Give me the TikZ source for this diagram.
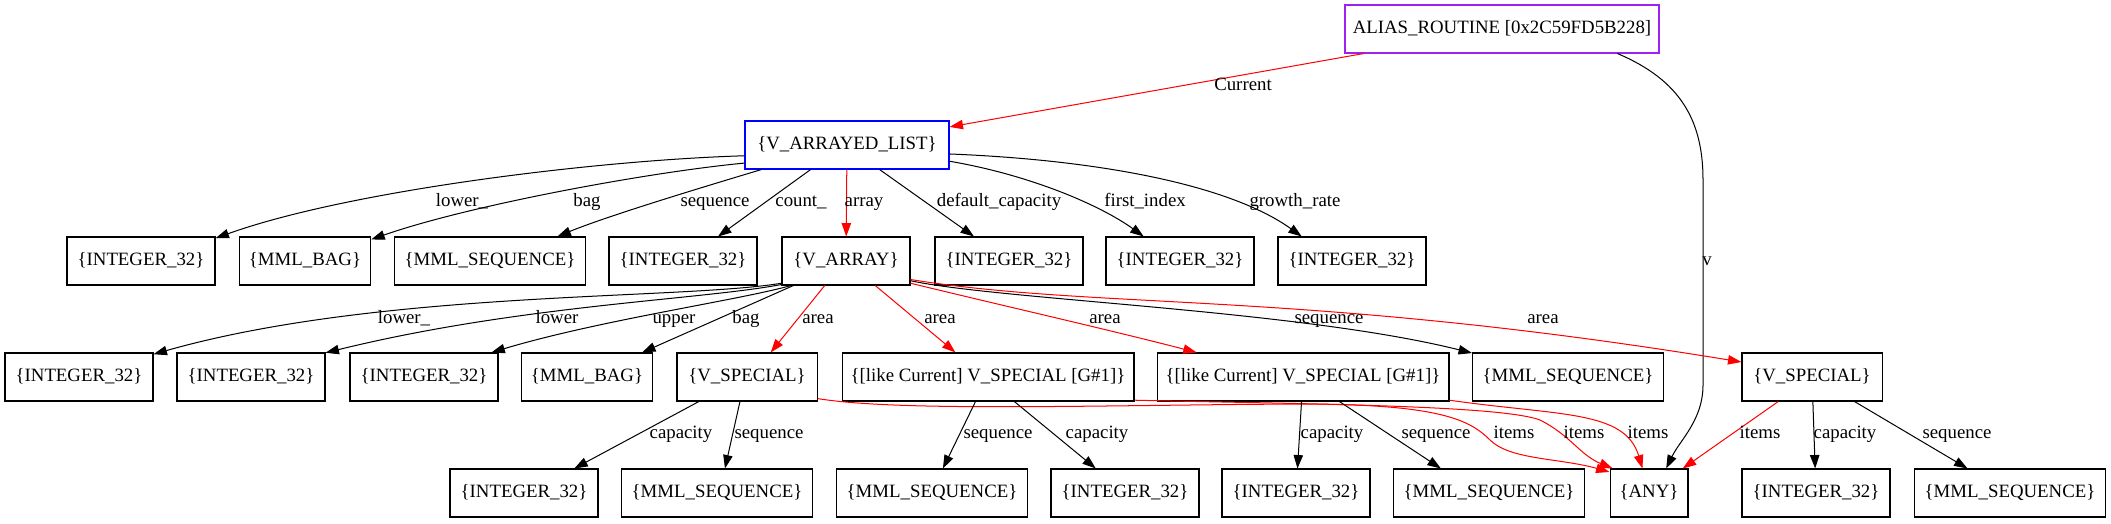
\documentclass[tikz,border=0pt]{standalone}
\usepackage{fontspec}
\setmainfont{Liberation Serif}
\usetikzlibrary{arrows.meta}
\definecolor{purp}{HTML}{A020F0}
\begin{document}
\begin{tikzpicture}[x=0.744pt,y=-0.744pt,
  box/.style={draw, rectangle, line width=0.8pt, minimum height=35.7pt, inner xsep=0pt, inner ysep=0pt,
    text height=10pt, text depth=3.5pt, font=\fontsize{14}{16}\selectfont},
  wint/.style={box, minimum width=110.1pt},
  wbag/.style={box, minimum width=97.8pt},
  wseq/.style={box, minimum width=142.1pt},
  wspec/.style={box, minimum width=104.2pt},
  wlike/.style={box, minimum width=217.2pt},
  lbl/.style={inner sep=0pt, text height=10pt, text depth=3.5pt, font=\fontsize{14}{16}\selectfont},
  conn/.style={draw, line width=0.75pt, -{Triangle[length=10pt,width=7pt]}},
  rconn/.style={conn, red}]
\fill[white] (0,0) rectangle (2111,523);
\useasboundingbox (0,0) rectangle (2111,523);

% nodes
\node[box, draw=purp, minimum width=233.6pt] (alias) at (1502,29) {ALIAS\_ROUTINE [0x2C59FD5B228]};
\node[box, draw=blue, minimum width=151.8pt] (val) at (847,145) {\{V\_ARRAYED\_LIST\}};

\node[wint] (a2) at (141,261) {\{INTEGER\_32\}};
\node[wbag] (b2) at (305,261) {\{MML\_BAG\}};
\node[wseq] (c2) at (490,261) {\{MML\_SEQUENCE\}};
\node[wint] (d2) at (683,261) {\{INTEGER\_32\}};
\node[box, minimum width=95.2pt] (e2) at (846,261) {\{V\_ARRAY\}};
\node[wint] (f2) at (1009,261) {\{INTEGER\_32\}};
\node[wint] (g2) at (1180,261) {\{INTEGER\_32\}};
\node[wint] (h2) at (1352,261) {\{INTEGER\_32\}};

\node[wint] (a3) at (79,377) {\{INTEGER\_32\}};
\node[wint] (b3) at (251,377) {\{INTEGER\_32\}};
\node[wint] (c3) at (424,377) {\{INTEGER\_32\}};
\node[wbag] (d3) at (587,377) {\{MML\_BAG\}};
\node[wspec] (e3) at (747,377) {\{V\_SPECIAL\}};
\node[wlike] (f3) at (988,377) {\{[like Current] V\_SPECIAL [G\#1]\}};
\node[wlike] (g3) at (1303,377) {\{[like Current] V\_SPECIAL [G\#1]\}};
\node[wseq] (h3) at (1568,377) {\{MML\_SEQUENCE\}};
\node[wspec] (i3) at (1812,377) {\{V\_SPECIAL\}};

\node[wint] (a4) at (524,493) {\{INTEGER\_32\}};
\node[wseq] (b4) at (717,493) {\{MML\_SEQUENCE\}};
\node[wseq] (c4) at (932,493) {\{MML\_SEQUENCE\}};
\node[wint] (d4) at (1125,493) {\{INTEGER\_32\}};
\node[wint] (e4) at (1296,493) {\{INTEGER\_32\}};
\node[wseq] (f4) at (1489,493) {\{MML\_SEQUENCE\}};
\node[box, minimum width=58pt] (g4) at (1649,493) {\{ANY\}};
\node[wint] (h4) at (1816,493) {\{INTEGER\_32\}};
\node[wseq] (i4) at (2010,493) {\{MML\_SEQUENCE\}};

% edges from alias
\path[rconn] (alias) -- (val);
\path[conn] (alias.-12) .. controls (1680,80) and (1703,120) .. (1703,180) -- (1703,385) .. controls (1703,420) and (1680,440) .. (g4.55);

% edges from V_ARRAYED_LIST
\path[conn] (val.186) .. controls (600,160) and (350,190) .. (a2.17);
\path[conn] (val.190) .. controls (650,172) and (470,205) .. (b2.18);
\path[conn] (val.196) .. controls (710,185) and (610,215) .. (c2.20);
\path[conn] (val.214) -- (d2.35);
\path[rconn] (val) -- (e2);
\path[conn] (val.-37) -- (f2.145);
\path[conn] (val.-9) .. controls (1030,175) and (1100,205) .. (g2.146);
\path[conn] (val.-5) .. controls (1100,160) and (1230,185) .. (h2.154);

% edges from V_ARRAY
\path[conn] (e2.199) .. controls (680,300) and (380,290) .. (a3.17);
\path[conn] (e2.200) .. controls (700,300) and (520,305) .. (b3.18);
\path[conn] (e2.204) .. controls (740,300) and (600,320) .. (c3.20);
\path[conn] (e2.205) -- (d3.24);
\path[rconn] (e2.229) -- (e3.46);
\path[rconn] (e2.-40) -- (f3.143);
\path[rconn] (e2.-19) .. controls (1000,305) and (1110,330) .. (g3.167);
\path[conn] (e2.-17) .. controls (1000,300) and (1300,310) .. (h3.166);
\path[rconn] (e2.-16) .. controls (1100,310) and (1300,290) .. (i3.168);

% edges from row 3
\path[conn] (e3.207) -- (a4.26);
\path[conn] (e3.254) -- (b4.72);
\path[rconn] (e3.-17) .. controls (900,412) and (1100,405) .. (1300,404) .. controls (1440,404) and (1470,420) .. (1490,440) .. controls (1510,460) and (1560,458) .. (g4.152);
\path[conn] (f3.243) -- (c4.66);
\path[conn] (f3.-43) -- (d4.140);
\path[rconn] (f3.-9) .. controls (1300,404) and (1500,405) .. (1540,420) .. controls (1570,435) and (1580,455) .. (g4.146);
\path[conn] (g3) -- (e4);
\path[conn] (g3.-34) -- (f4.153);
\path[rconn] (g3.-9) .. controls (1560,416) and (1625,410) .. (g4.105);
\path[rconn] (i3.216) -- (g4.36);
\path[conn] (i3) -- (h4);
\path[conn] (i3.-30) -- (i4.150);

% labels
\node[lbl] (lcur) at (1243,86) {Current};
\node[lbl] (lv) at (1707,261) {v};

\node[lbl] (l1) at (462,202) {lower\_};
\node[lbl] (l2) at (587,202) {bag};
\node[lbl] (l3) at (715,202) {sequence};
\node[lbl] (l4) at (801,202) {count\_};
\node[lbl] (l5) at (864,202) {array};
\node[lbl] (l6) at (999,202) {default\_capacity};
\node[lbl] (l7) at (1145,202) {first\_index};
\node[lbl] (l8) at (1295,202) {growth\_rate};

\node[lbl] (m1) at (404,319) {lower\_};
\node[lbl] (m2) at (557,319) {lower};
\node[lbl] (m3) at (674,319) {upper};
\node[lbl] (m4) at (746,319) {bag};
\node[lbl] (m5) at (818,319) {area};
\node[lbl] (m6) at (940,319) {area};
\node[lbl] (m7) at (1105,319) {area};
\node[lbl] (m8) at (1329,319) {sequence};
\node[lbl] (m9) at (1543,319) {area};

\node[lbl] (n1) at (681,434) {capacity};
\node[lbl] (n2) at (769,434) {sequence};
\node[lbl] (n3) at (998,434) {sequence};
\node[lbl] (n4) at (1097,434) {capacity};
\node[lbl] (n5) at (1332,434) {capacity};
\node[lbl] (n6) at (1436,434) {sequence};
\node[lbl] (n7) at (1514,434) {items};
\node[lbl] (n8) at (1584,434) {items};
\node[lbl] (n9) at (1648,434) {items};
\node[lbl] (n10) at (1760,434) {items};
\node[lbl] (n11) at (1845,434) {capacity};
\node[lbl] (n12) at (1957,434) {sequence};
\end{tikzpicture}
\end{document}
